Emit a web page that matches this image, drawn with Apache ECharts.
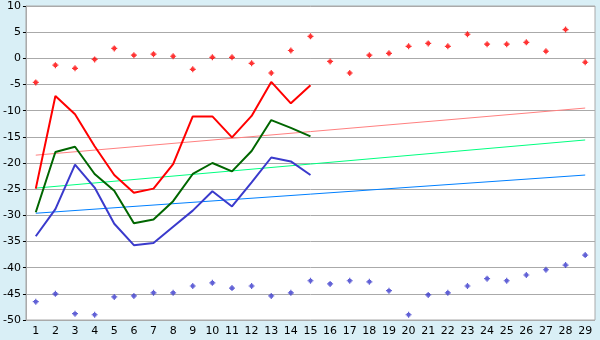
<!DOCTYPE html>
<html><head><meta charset="utf-8">
<script src="https://cdn.jsdelivr.net/npm/echarts@6/dist/echarts.min.js"></script>
<style>html,body{margin:0;padding:0;background:#d9eff6;}#c{width:600px;height:340px;}</style>
</head><body><div id="c"></div>
<script>
var categories = ['1','2','3','4','5','6','7','8','9','10','11','12','13','14','15','16','17','18','19','20','21','22','23','24','25','26','27','28','29'];
var redLine = [-24.9,-7.2,-10.7,-16.8,-22.3,-25.7,-24.9,-20.2,-11.1,-11.1,-15.1,-11.0,-4.5,-8.6,-5.15];
var greenLine = [-29.4,-17.9,-16.9,-22.1,-25.3,-31.5,-30.8,-27.3,-22.1,-20.0,-21.6,-17.7,-11.8,-13.3,-14.9];
var blueLine = [-34.0,-28.8,-20.3,-24.7,-31.6,-35.7,-35.3,-32.2,-29.1,-25.4,-28.3,-23.7,-18.95,-19.7,-22.3];
var redPoints = [-4.6,-1.3,-1.9,-0.2,1.9,0.6,0.8,0.4,-2.1,0.2,0.2,-0.95,-2.8,1.5,4.2,-0.6,-2.8,0.6,0.95,2.3,2.85,2.3,4.6,2.7,2.7,3.05,1.35,5.5,-0.75];
var bluePoints = [-46.5,-45.0,-48.8,-49.0,-45.6,-45.4,-44.8,-44.8,-43.5,-42.9,-43.9,-43.5,-45.4,-44.8,-42.5,-43.1,-42.5,-42.7,-44.4,-49.0,-45.2,-44.8,-43.5,-42.1,-42.5,-41.4,-40.4,-39.5,-37.6];
var redTrendEnds = [-18.5,-9.5];
var greenTrendEnds = [-24.8,-15.6];
var blueTrendEnds = [-29.6,-22.3];
var yTicks = {min:-50,max:10,interval:5};

function trend(ends){
  var d = categories.map(function(){return null;});
  d[0] = ends[0]; d[categories.length-1] = ends[1];
  return d;
}
var sym = 'path://M2,0H3V1H4V2H5V3H4V4H3V5H2V4H1V3H0V2H1V1H2Z';
var chart = echarts.init(document.getElementById('c'));
var lbl = {fontFamily:'DejaVu Sans',fontSize:11,color:'#000'};
chart.setOption({
  animation:false,
  backgroundColor:'#d9eff6',
  grid:{left:25,right:5,top:6,bottom:20,show:true,backgroundColor:'#fff',borderColor:'#aaaaaa',borderWidth:1},
  xAxis:{type:'category',data:categories,boundaryGap:true,
    axisLine:{lineStyle:{color:'#aaaaaa'}},
    axisTick:{alignWithLabel:true,length:5,lineStyle:{color:'#000'}},
    axisLabel:Object.assign({margin:6,interval:0},lbl),
    splitLine:{show:false}},
  yAxis:{type:'value',min:yTicks.min,max:yTicks.max,interval:yTicks.interval,
    axisLine:{show:true,lineStyle:{color:'#aaaaaa'}},
    axisTick:{show:true,length:3,lineStyle:{color:'#000'}},
    axisLabel:Object.assign({margin:5},lbl),
    splitLine:{lineStyle:{color:'#aaaaaa',width:1}}},
  series:[
    {type:'line',data:trend(redTrendEnds),connectNulls:true,showSymbol:false,lineStyle:{color:'#ff8080',width:1},z:1},
    {type:'line',data:trend(greenTrendEnds),connectNulls:true,showSymbol:false,lineStyle:{color:'#00ff80',width:1},z:1},
    {type:'line',data:trend(blueTrendEnds),connectNulls:true,showSymbol:false,lineStyle:{color:'#0080ff',width:1},z:1},
    {type:'line',data:redLine,showSymbol:false,lineStyle:{color:'#ff0000',width:2},z:2},
    {type:'line',data:greenLine,showSymbol:false,lineStyle:{color:'#006600',width:2},z:2},
    {type:'line',data:blueLine,showSymbol:false,lineStyle:{color:'#3a3acc',width:2},z:2},
    {type:'scatter',data:redPoints,symbol:sym,symbolSize:6,itemStyle:{color:'#ff0000'},z:3},
    {type:'scatter',data:bluePoints,symbol:sym,symbolSize:6,itemStyle:{color:'#3a3acc'},z:3}
  ]
});
</script></body></html>
